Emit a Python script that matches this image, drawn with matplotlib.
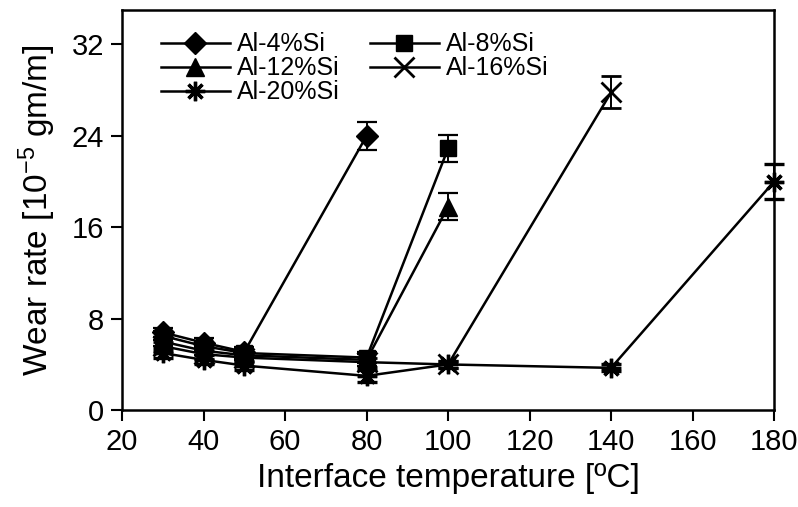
import numpy as np
import matplotlib
matplotlib.use('Agg')
import matplotlib.pyplot as plt
from matplotlib.lines import Line2D

plt.rcParams['font.family'] = ['Liberation Sans', 'DejaVu Sans']
plt.rcParams['mathtext.fontset'] = 'custom'
plt.rcParams['mathtext.rm'] = 'Liberation Sans'
plt.rcParams['mathtext.it'] = 'Liberation Sans:italic'

# interface temperature (C) and wear rate (1e-5 gm/m)
t_4 = [30, 40, 50, 80]
w_4 = [6.8, 5.9, 5.1, 24.0]
e_4 = [0.4, 0.4, 0.4, 1.2]

t_8 = [30, 40, 50, 80, 100]
w_8 = [6.5, 5.6, 5.0, 4.6, 22.9]
e_8 = [0.4, 0.4, 0.4, 0.5, 1.2]

t_12 = [30, 40, 50, 80, 100]
w_12 = [6.0, 5.2, 4.8, 4.4, 17.8]
e_12 = [0.4, 0.4, 0.4, 0.5, 1.2]

t_16 = [30, 40, 50, 80, 100, 140]
w_16 = [5.6, 4.9, 4.6, 4.2, 4.0, 27.8]
e_16 = [0.4, 0.4, 0.4, 0.4, 0.3, 1.4]

t_20 = [30, 40, 50, 80, 100, 140, 180]
w_20 = [5.0, 4.4, 3.9, 3.0, 4.0, 3.7, 20.0]
e_20 = [0.4, 0.4, 0.4, 0.5, 0.3, 0.3, 1.5]

labels = ['Al-4%Si', 'Al-8%Si', 'Al-12%Si', 'Al-16%Si', 'Al-20%Si']

fig = plt.figure(figsize=(7.98, 5.07), dpi=100)
ax = fig.add_axes([0.153, 0.191, 0.817, 0.789])

common = dict(color='black', lw=1.8, capsize=7, elinewidth=1.4, capthick=1.6)
sty = [dict(marker='D', ms=11),
       dict(marker='s', ms=12),
       dict(marker='^', ms=13),
       dict(marker='x', ms=14, mew=2),
       dict(marker=(8, 2, 0), ms=14, mew=2.4)]
data = [(t_4, w_4, e_4), (t_8, w_8, e_8), (t_12, w_12, e_12),
        (t_16, w_16, e_16), (t_20, w_20, e_20)]
for (t, w, e), s, lab in zip(data, sty, labels):
    eb = ax.errorbar(t, w, yerr=e, label=lab, **common, **s)
    for art in eb.get_children():
        art.set_clip_on(False)

ax.set_xlim(20, 180)
ax.set_ylim(0, 35)
ax.set_xticks(np.arange(20, 181, 20))
ax.set_yticks(np.arange(0, 33, 8))
for sp in ax.spines.values():
    sp.set_linewidth(1.8)
ax.tick_params(direction='out', length=8, width=1.5, labelsize=21, pad=5)

ax.set_xlabel('Interface temperature [ºC]', fontsize=24, labelpad=5)
ax.set_ylabel('Wear rate [10$^{-5}$ gm/m]', fontsize=24, labelpad=10)

handles = [Line2D([], [], color='black', lw=1.8, **s) for s in sty]
ax.legend([handles[0], handles[2], handles[4], handles[1], handles[3]],
          [labels[0], labels[2], labels[4], labels[1], labels[3]],
          ncol=2, loc='upper left', bbox_to_anchor=(0.044, 0.97), frameon=False,
          fontsize=18, handlelength=2.75, labelspacing=0.0, columnspacing=1.2,
          handletextpad=0.3, borderaxespad=0, handleheight=0.6)

fig.savefig('out.png', dpi=100, facecolor='white')
